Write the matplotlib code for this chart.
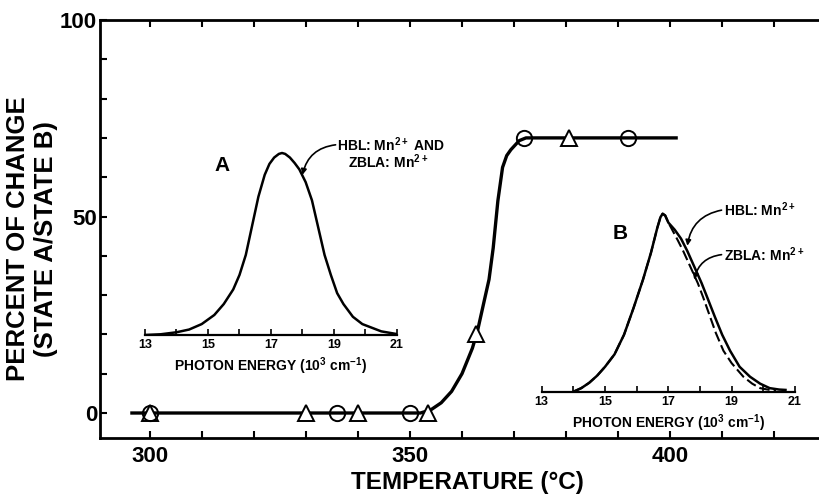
import matplotlib
matplotlib.use("Agg")
import matplotlib.pyplot as plt
from matplotlib.ticker import MultipleLocator, FixedLocator

plt.rcParams['font.family'] = ['Liberation Sans', 'DejaVu Sans']
plt.rcParams['font.weight'] = 'bold'
plt.rcParams['axes.labelweight'] = 'bold'
plt.rcParams['mathtext.fontset'] = 'custom'
plt.rcParams['mathtext.rm'] = 'Liberation Sans:bold'
plt.rcParams['mathtext.bf'] = 'Liberation Sans:bold'
plt.rcParams['mathtext.default'] = 'bf'

# main curve: percent of change vs temperature
curve_temp = [296.2, 352, 354, 356, 358, 360, 362, 363, 364.3, 365.2, 366, 366.9,
              367.8, 368.6, 369.4, 371, 372.3, 401.5]
curve_pct = [0, 0, 0.8, 2.6, 5.5, 10, 16.5, 21, 28.7, 34, 42, 54,
             62.5, 65.5, 67, 69.3, 70, 70]
circle_temp = [300, 336, 350, 372, 392]
circle_pct = [0, 0, 0, 70, 70]
tri_temp = [300, 330, 340, 353.5, 362.7, 380.5]
tri_pct = [0, 0, 0, 0, 20, 70]

# inset A spectrum (state A)
a_energy = [13.0, 13.5, 14.0, 14.4, 14.8, 15.2, 15.5, 15.8, 16.0, 16.2, 16.4, 16.6,
            16.8, 16.95, 17.1, 17.25, 17.35, 17.45, 17.6, 17.75, 17.9, 18.1, 18.3, 18.5,
            18.7, 18.9, 19.1, 19.3, 19.6, 19.9, 20.2, 20.5, 21.0]
a_int = [0.0, 0.004, 0.015, 0.03, 0.06, 0.11, 0.17, 0.25, 0.33, 0.44, 0.60, 0.76,
         0.88, 0.94, 0.975, 0.995, 1.0, 0.995, 0.975, 0.945, 0.91, 0.84, 0.74, 0.59,
         0.44, 0.33, 0.23, 0.17, 0.10, 0.06, 0.04, 0.02, 0.005]

# inset B spectra (state B)
b_hbl_energy = [14.0, 14.25, 14.5, 14.75, 15.0, 15.3, 15.6, 15.9, 16.2, 16.45, 16.65,
                16.75, 16.82, 16.9, 17.0, 17.2, 17.4, 17.6, 17.85, 18.05, 18.25,
                18.47, 18.7, 18.95, 19.25, 19.58, 19.9, 20.2, 20.5, 20.7]
b_hbl_int = [0.0, 0.02, 0.05, 0.09, 0.14, 0.21, 0.32, 0.47, 0.63, 0.78, 0.92,
             0.98, 1.0, 0.99, 0.95, 0.91, 0.86, 0.79, 0.69, 0.61, 0.52,
             0.42, 0.32, 0.23, 0.14, 0.084, 0.045, 0.02, 0.012, 0.01]
b_zbla_energy = [14.0, 14.25, 14.5, 14.75, 15.0, 15.3, 15.6, 15.9, 16.2, 16.45, 16.65,
                 16.75, 16.82, 16.9, 17.0, 17.15, 17.3, 17.47, 17.7, 17.93, 18.1,
                 18.32, 18.5, 18.74, 19.0, 19.37, 19.65, 19.9, 20.2, 20.4]
b_zbla_int = [0.0, 0.02, 0.05, 0.09, 0.14, 0.21, 0.32, 0.47, 0.63, 0.78, 0.92,
              0.98, 1.0, 0.99, 0.95, 0.90, 0.85, 0.79, 0.70, 0.61, 0.53,
              0.42, 0.33, 0.23, 0.16, 0.084, 0.045, 0.02, 0.01, 0.006]

W, H = 820, 497
fig = plt.figure(figsize=(8.2, 4.97), dpi=100)

ax = fig.add_axes([100 / W, 1 - 438 / H, 720 / W, 418 / H])
ax.plot(curve_temp, curve_pct, color='black', lw=2.4, zorder=2, solid_capstyle='butt')
ax.plot(tri_temp, tri_pct, ls='none', marker='^', ms=12, mfc='white', mec='black', mew=1.4, zorder=3)
ax.plot(circle_temp, circle_pct, ls='none', marker='o', ms=11, mfc='none', mec='black', mew=1.4, zorder=4)

ax.set_xlim(290.38, 428.85)
ax.set_ylim(-6.36, 100)
ax.spines['right'].set_visible(False)
for s in ['left', 'bottom', 'top']:
    ax.spines[s].set_linewidth(2)
ax.xaxis.set_major_locator(FixedLocator([300, 350, 400]))
ax.xaxis.set_minor_locator(MultipleLocator(10))
ax.yaxis.set_major_locator(FixedLocator([0, 50, 100]))
ax.yaxis.set_minor_locator(MultipleLocator(10))
ax.tick_params(which='both', direction='in', top=True, right=False, length=5, width=1.5)
ax.tick_params(axis='x', labelsize=16, pad=6)
ax.tick_params(axis='y', labelsize=16, pad=2)

fig.text(18 / W, 1 - 239 / H, 'PERCENT OF CHANGE', rotation=90, ha='center', va='center', fontsize=18.5)
fig.text(46 / W, 1 - 239 / H, '(STATE A/STATE B)', rotation=90, ha='center', va='center', fontsize=18.5)
fig.text(467 / W, 1 - 482 / H, 'TEMPERATURE (°C)', ha='center', va='center', fontsize=17.5)

arrow = dict(arrowstyle='-|>', connectionstyle='arc3,rad=0.35', lw=1.2, color='black',
             mutation_scale=8, shrinkA=0, shrinkB=0)


def style_inset(axi):
    axi.set_facecolor('none')
    for s in ['left', 'right', 'top']:
        axi.spines[s].set_visible(False)
    axi.spines['bottom'].set_linewidth(1.6)
    axi.set_yticks([])
    axi.set_xlim(13, 21)
    axi.xaxis.set_major_locator(FixedLocator([13, 15, 17, 19, 21]))
    axi.xaxis.set_minor_locator(MultipleLocator(1))
    axi.tick_params(which='both', direction='in', length=4, width=1.2)
    axi.tick_params(axis='x', labelsize=9, pad=3)
    axi.set_xlabel('PHOTON ENERGY (10$^{3}$ cm$^{-1}$)', fontsize=10, labelpad=3)


# inset A
axA = fig.add_axes([145 / W, 1 - 335 / H, 252 / W, 200 / H])
style_inset(axA)
axA.set_ylim(0, 200 / 182)
axA.plot(a_energy, a_int, color='black', lw=1.8)
axA.text(15.45, 0.93, 'A', fontsize=15, ha='center', va='center')
axA.text(19.1, 1.044, 'HBL: Mn$^{2+}$ AND', fontsize=10, ha='left', va='center')
axA.text(19.45, 0.95, 'ZBLA: Mn$^{2+}$', fontsize=10, ha='left', va='center')
axA.annotate('', xy=(18.0, 0.88), xytext=(19.05, 1.045), arrowprops=arrow, annotation_clip=False)

# inset B
axB = fig.add_axes([541.7 / W, 1 - 391.7 / H, 253.3 / W, 200 / H])
style_inset(axB)
axB.set_ylim(0, 200 / 178)
axB.plot(b_hbl_energy, b_hbl_int, color='black', lw=1.8)
axB.plot(b_zbla_energy, b_zbla_int, color='black', lw=1.5, ls=(0, (5, 2)))
axB.text(15.47, 0.89, 'B', fontsize=15, ha='center', va='center')
axB.text(18.75, 1.02, 'HBL: Mn$^{2+}$', fontsize=10, ha='left', va='center')
axB.text(18.75, 0.77, 'ZBLA: Mn$^{2+}$', fontsize=10, ha='left', va='center')
axB.annotate('', xy=(17.6, 0.82), xytext=(18.68, 1.02), arrowprops=arrow, annotation_clip=False)
axB.annotate('', xy=(17.82, 0.63), xytext=(18.68, 0.77), arrowprops=arrow, annotation_clip=False)

fig.savefig('out.png', dpi=100)
